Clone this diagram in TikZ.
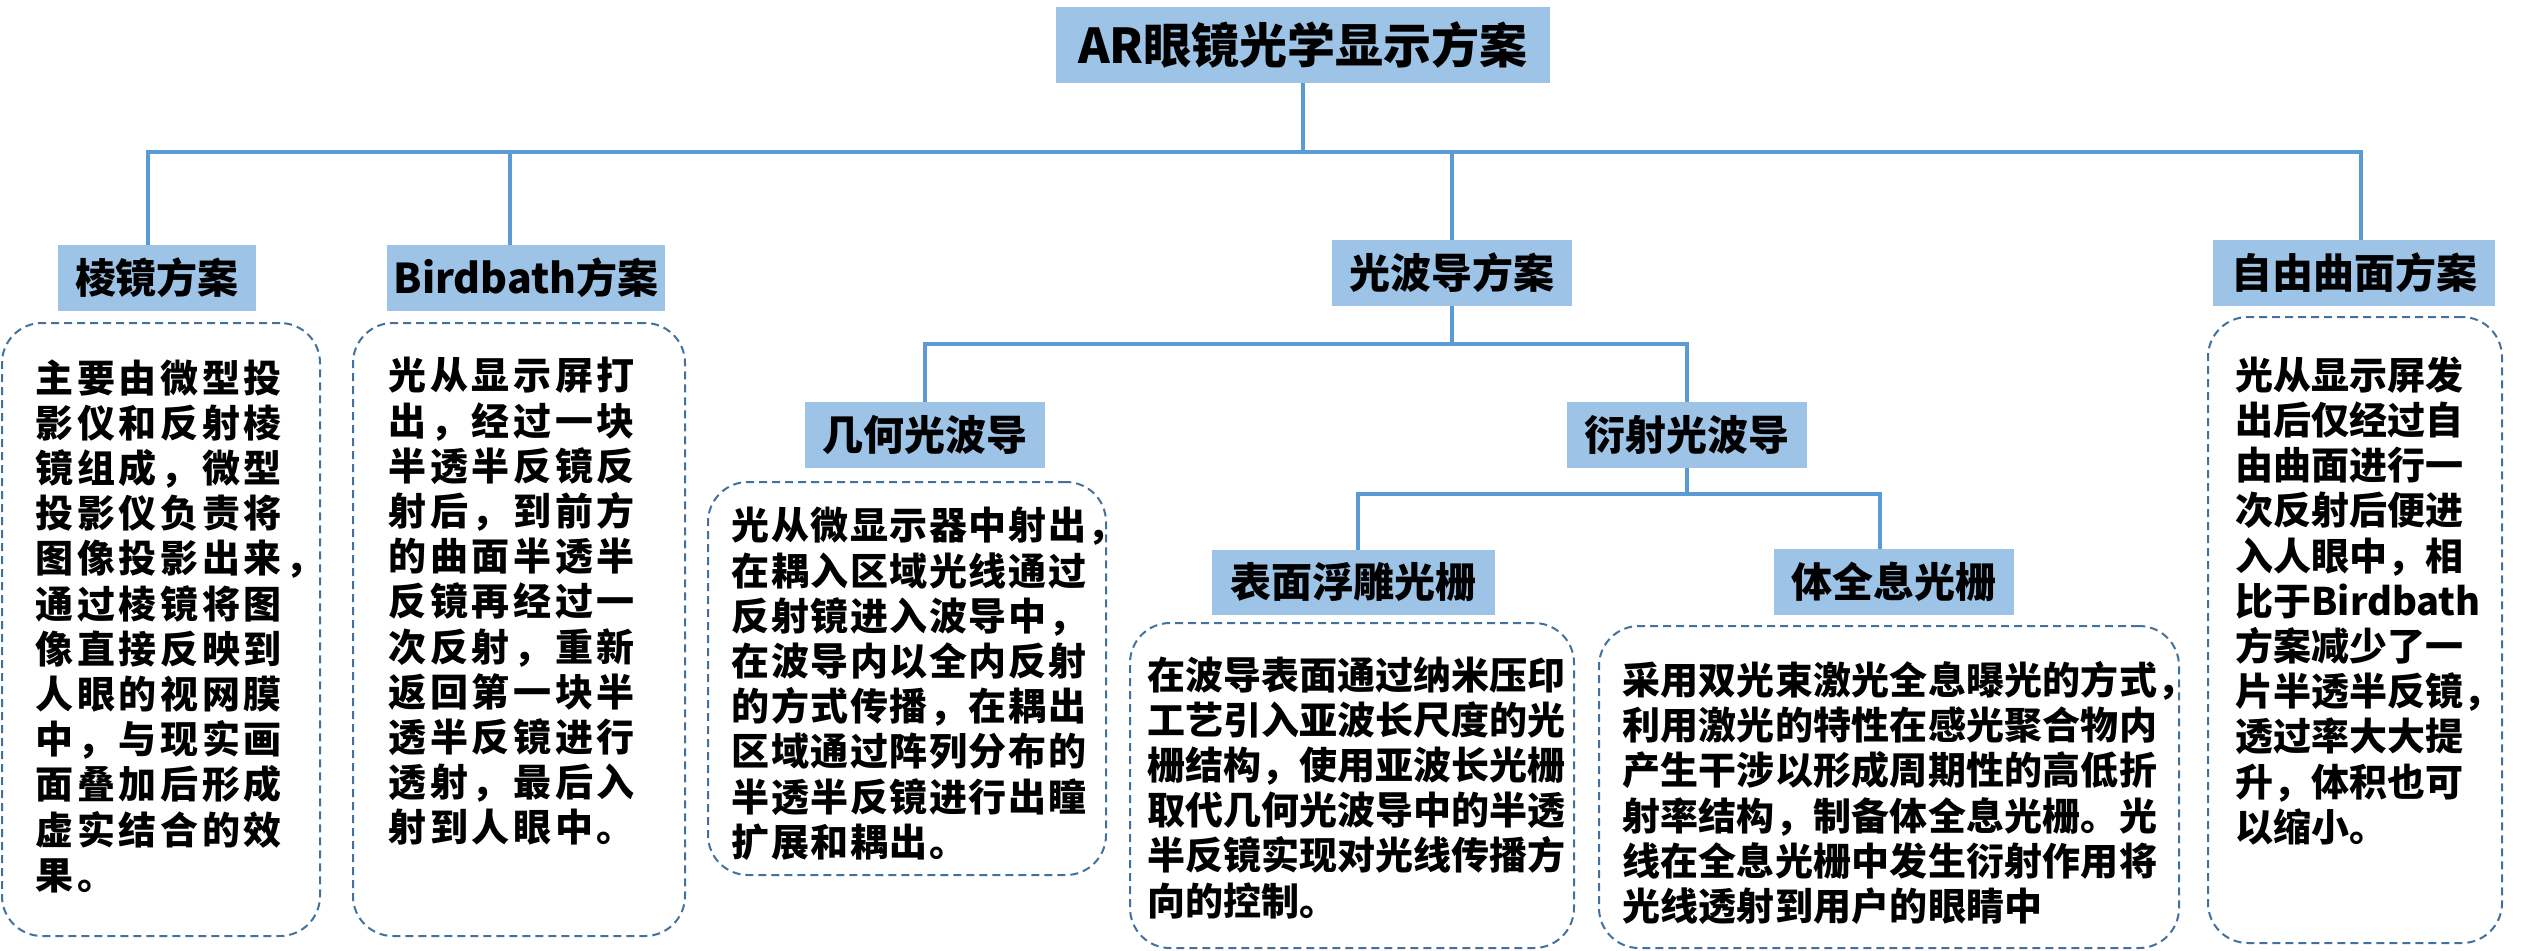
\documentclass[tikz,border=0pt]{standalone}
\usepackage{fontspec}
\setmainfont{Noto Sans CJK SC}
\definecolor{hdrblue}{HTML}{9DC3E6}
\definecolor{lnblue}{HTML}{5B9BD5}
\definecolor{dshblue}{HTML}{41719C}
\newlength\lsk
\newcommand\lsend{}
\def\lsaux#1{\ifx#1\lsend\else#1\kern\lsk\relax\expandafter\lsaux\fi}
\newcommand\LS[1]{\lsaux#1\lsend}
\begin{document}
\begin{tikzpicture}[x=0.5pt,y=-0.5pt,
  hdr/.style={fill=hdrblue,inner sep=0pt,minimum height=33pt,text=black,font=\bfseries\fontsize{20.5}{24}\selectfont},
  descbox/.style={draw=dshblue,line width=1pt,dash pattern=on 4pt off 2.5pt,rounded corners=20pt,inner sep=0pt},
  desctext/.style={anchor=north west,inner sep=0pt,align=left,text=black,font={\bfseries\fontsize{19}{22.6}\selectfont\setlength\lsk{#1}}},
  desctext/.default=0pt,
  conn/.style={draw=lnblue,line width=2pt}]
\useasboundingbox (0,0) rectangle (2528,950);
% headers
\node[hdr,minimum width=247pt,minimum height=38pt,font=\bfseries\fontsize{24}{28}\selectfont] (title) at (1303,45) {AR眼镜光学显示方案};
\node[hdr,minimum width=99pt] (h1) at (157,278) {棱镜方案};
\node[hdr,minimum width=139pt] (h2) at (526,278) {Birdbath方案};
\node[hdr,minimum width=120pt] (h3) at (1452,273) {光波导方案};
\node[hdr,minimum width=141pt] (h4) at (2354,273) {自由曲面方案};
\node[hdr,minimum width=120pt] (g1) at (925,435) {几何光波导};
\node[hdr,minimum width=120pt] (g2) at (1687,435) {衍射光波导};
\node[hdr,minimum width=141.5pt,minimum height=32.5pt] (s1) at (1353.5,582.5) {表面浮雕光栅};
\node[hdr,minimum width=120pt] (s2) at (1894,582) {体全息光栅};
% bus levels
\coordinate (bus1) at (0,152);
\coordinate (bus2) at (0,344);
\coordinate (bus3) at (0,494);
\draw[conn] (title.south) |- ([xshift=-4.5pt]h1.north |- bus1) -- ([xshift=-4.5pt]h1.north);
\draw[conn] (title.south) |- ([xshift=-8pt]h2.north |- bus1) -- ([xshift=-8pt]h2.north);
\draw[conn] (title.south) |- (h3.north |- bus1) -- (h3.north);
\draw[conn] (title.south) |- ([xshift=3.5pt]h4.north |- bus1) -- ([xshift=3.5pt]h4.north);
\draw[conn] (h3.south) |- (g1.north |- bus2) -- (g1.north);
\draw[conn] (h3.south) |- (g2.north |- bus2) -- (g2.north);
\draw[conn] (g2.south) |- ([xshift=2.25pt]s1.north |- bus3) -- ([xshift=2.25pt]s1.north);
\draw[conn] (g2.south) |- ([xshift=-7pt]s2.north |- bus3) -- ([xshift=-7pt]s2.north);
% description boxes
\node[descbox,minimum width=159pt,minimum height=306.5pt] (d1) at (161,629.5) {};
\node[descbox,minimum width=166pt,minimum height=306.5pt] (d2) at (519,629.5) {};
\node[descbox,minimum width=199pt,minimum height=196.5pt] (d3) at (907,678.5) {};
\node[descbox,minimum width=222pt,minimum height=162.5pt] (d4) at (1352,785.5) {};
\node[descbox,minimum width=290pt,minimum height=161pt] (d5) at (1889,787) {};
\node[descbox,minimum width=147pt,minimum height=313pt] (d6) at (2355,630) {};
% description texts
\node[desctext=1.85pt] (t1) at ([shift={(34,37)}]d1.north west) {%
\LS{主要由微型投}\\\LS{影仪和反射棱}\\\LS{镜组成，微型}\\\LS{投影仪负责将}\\\LS{图像投影出来，}\\\LS{通过棱镜将图}\\%
\LS{像直接反映到}\\\LS{人眼的视网膜}\\\LS{中，与现实画}\\\LS{面叠加后形成}\\\LS{虚实结合的效}\\\LS{果。}};
\node[desctext=1.85pt] (t2) at ([shift={(36,35)}]d2.north west) {%
\LS{光从显示屏打}\\\LS{出，经过一块}\\\LS{半透半反镜反}\\\LS{射后，到前方}\\\LS{的曲面半透半}\\\LS{反镜再经过一}\\%
\LS{次反射，重新}\\\LS{返回第一块半}\\\LS{透半反镜进行}\\\LS{透射，最后入}\\\LS{射到人眼中。}};
\node[desctext=0.8pt] (t3) at ([shift={(24,26)}]d3.north west) {%
\LS{光从微显示器中射出，}\\\LS{在耦入区域光线通过}\\\LS{反射镜进入波导中，}\\\LS{在波导内以全内反射}\\%
\LS{的方式传播，在耦出}\\\LS{区域通过阵列分布的}\\\LS{半透半反镜进行出瞳}\\\LS{扩展和耦出。}};
\node[desctext] (t4) at ([shift={(18,34)}]d4.north west) {%
在波导表面通过纳米压印\\工艺引入亚波长尺度的光\\栅结构，使用亚波长光栅\\取代几何光波导中的半透\\半反镜实现对光线传播方\\向的控制。};
\node[desctext=0.1pt] (t5) at ([shift={(24,36)}]d5.north west) {%
\LS{采用双光束激光全息曝光的方式，}\\\LS{利用激光的特性在感光聚合物内}\\\LS{产生干涉以形成周期性的高低折}\\%
\LS{射率结构，制备体全息光栅。光}\\\LS{线在全息光栅中发生衍射作用将}\\\LS{光线透射到用户的眼睛中}};
\node[desctext] (t6) at ([shift={(28,40)}]d6.north west) {%
光从显示屏发\\出后仅经过自\\由曲面进行一\\次反射后便进\\入人眼中，相\\比于Birdbath\\方案减少了一\\片半透半反镜，\\透过率大大提\\升，体积也可\\以缩小。};
\end{tikzpicture}
\end{document}
